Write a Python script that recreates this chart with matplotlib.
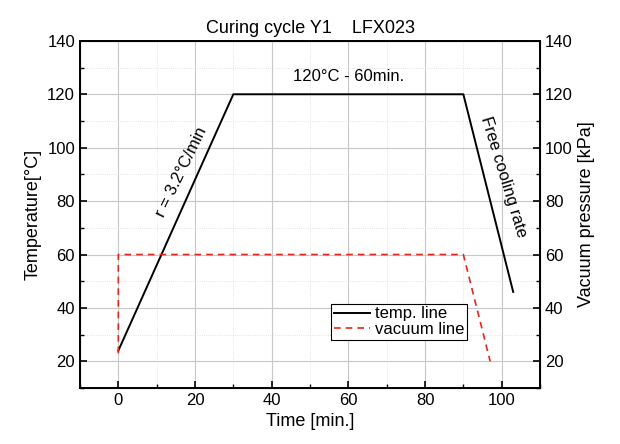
import matplotlib
matplotlib.use("Agg")
import matplotlib.pyplot as plt
from matplotlib.ticker import MultipleLocator

plt.rcParams['font.family'] = ['Liberation Sans', 'DejaVu Sans']

# Curing profile data
temp_time = [0, 30, 90, 103]
temp_values = [24, 120, 120, 46]
vac_time = [0, 0, 90, 97]
vac_values = [23, 60, 60, 20]

fig, ax = plt.subplots(figsize=(6.2, 4.44), dpi=100)
fig.subplots_adjust(left=0.129, right=0.871, top=0.908, bottom=0.126)

ax.plot(temp_time, temp_values, color="black", lw=1.4, label="temp. line")
ax.plot(vac_time, vac_values, color="#e8261f", lw=1.2, ls=(0, (4, 3)), label="vacuum line")

ax.set_xlim(-10, 110)
ax.set_ylim(10, 140)
ax.xaxis.set_major_locator(MultipleLocator(20))
ax.xaxis.set_minor_locator(MultipleLocator(10))
ax.yaxis.set_major_locator(MultipleLocator(20))
ax.yaxis.set_minor_locator(MultipleLocator(10))
ax.set_yticks([20, 40, 60, 80, 100, 120, 140])
ax.grid(which="major", color="#c8c8c8", lw=0.8)
ax.grid(which="minor", color="#dcdcdc", lw=0.6, ls=":")
ax.tick_params(which="both", direction="in", labelsize=12)
ax.tick_params(which="major", length=5, width=1.2)
ax.tick_params(which="minor", length=3, width=1.0)
for s in ax.spines.values():
    s.set_linewidth(1.4)

ax2 = ax.twinx()
ax2.set_ylim(10, 140)
ax2.set_yticks([20, 40, 60, 80, 100, 120, 140])
ax2.yaxis.set_minor_locator(MultipleLocator(10))
ax2.tick_params(which="both", direction="in", labelsize=12)
ax2.tick_params(which="major", length=5, width=1.2)
ax2.tick_params(which="minor", length=3, width=1.0)
ax2.set_ylabel("Vacuum pressure [kPa]", fontsize=13)

ax.set_xlabel("Time [min.]", fontsize=13)
ax.set_ylabel("Temperature[\u00b0C]", fontsize=13)
ax.set_title("Curing cycle Y1    LFX023", fontsize=13)

ax.text(60, 124, "120\u00b0C - 60min.", ha="center", va="bottom", fontsize=12)
ax.text(16.5, 91, "r = 3.2\u00b0C/min", rotation=64, ha="center", va="center", fontsize=12)
ax.text(100.5, 89, "Free cooling rate", rotation=-73, ha="center", va="center", fontsize=12)

leg = ax.legend(loc="lower right", bbox_to_anchor=(0.86, 0.115), fontsize=12,
                fancybox=False, edgecolor="black", framealpha=1,
                handlelength=2.2, handletextpad=0.3, borderpad=0.15, labelspacing=0.05)
leg.get_frame().set_linewidth(0.8)

fig.savefig("out.png", dpi=100)
